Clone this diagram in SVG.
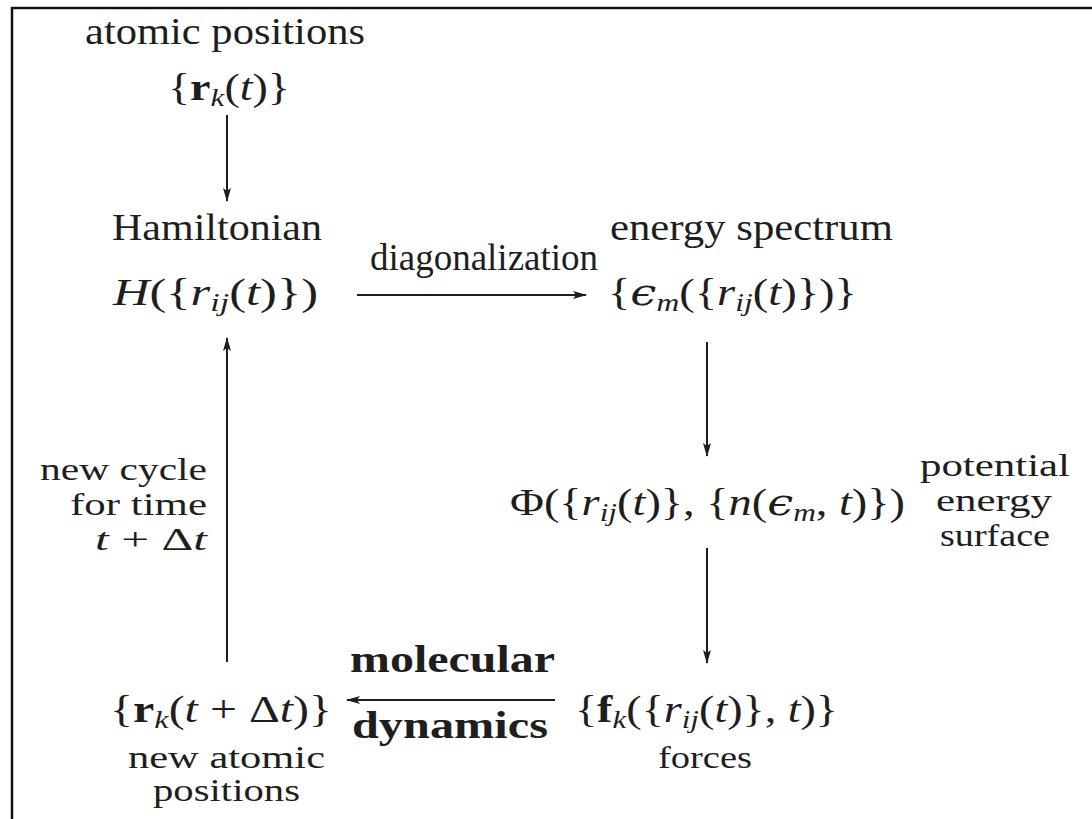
<svg xmlns="http://www.w3.org/2000/svg" width="1092" height="819" viewBox="0 0 1092 819">
<defs>
<style>
text{font-size:37px;fill:#1e1e1e}
.it{font-style:italic}
.b{font-weight:bold}
.sub{font-size:25px;font-style:italic}
.lbl{font-size:31px}
.c{text-anchor:middle}
.r{text-anchor:end}
.conn line{stroke:#1e1e1e;stroke-width:2}
.frame{stroke:#111;stroke-width:2.5;fill:none}
</style>
<marker id="ah" viewBox="0 0 14 8" refX="13" refY="4" markerWidth="14" markerHeight="8" markerUnits="userSpaceOnUse" orient="auto">
<path d="M0,0 L14,4 L0,8 L3,4 Z" fill="#1e1e1e"/>
</marker>
</defs>
<rect width="1092" height="819" fill="#fff"/>
<path class="frame" d="M12,819 L12,8 L1092,8"/>

<g font-family="'Liberation Serif', 'Times New Roman', 'DejaVu Serif', serif">
<g id="atomic-positions">
<text x="85" y="44" textLength="280" lengthAdjust="spacingAndGlyphs">atomic positions</text>
<text x="168" y="100" textLength="122" lengthAdjust="spacingAndGlyphs">{<tspan class="b">r</tspan><tspan class="sub" dy="6">k</tspan><tspan dy="-6">(</tspan><tspan class="it">t</tspan>)}</text>
</g>

<g id="hamiltonian">
<text x="112" y="240" textLength="210" lengthAdjust="spacingAndGlyphs">Hamiltonian</text>
<text x="113" y="305" textLength="205" lengthAdjust="spacingAndGlyphs"><tspan class="it">H</tspan>({<tspan class="it">r</tspan><tspan class="sub" dy="6">ij</tspan><tspan dy="-6">(</tspan><tspan class="it">t</tspan>)})</text>
</g>

<g id="energy-spectrum">
<text x="610" y="240" textLength="283" lengthAdjust="spacingAndGlyphs">energy spectrum</text>
<text x="608" y="305" textLength="249" lengthAdjust="spacingAndGlyphs">{<tspan class="it" font-family="'DejaVu Serif', serif">ϵ</tspan><tspan class="sub" dy="6">m</tspan><tspan dy="-6">({</tspan><tspan class="it">r</tspan><tspan class="sub" dy="6">ij</tspan><tspan dy="-6">(</tspan><tspan class="it">t</tspan>)})}</text>
</g>

<g id="potential">
<text x="510" y="515" textLength="395" lengthAdjust="spacingAndGlyphs">Φ({<tspan class="it">r</tspan><tspan class="sub" dy="6">ij</tspan><tspan dy="-6">(</tspan><tspan class="it">t</tspan>)}, {<tspan class="it">n</tspan>(<tspan class="it" font-family="'DejaVu Serif', serif">ϵ</tspan><tspan class="sub" dy="6">m</tspan><tspan dy="-6">, </tspan><tspan class="it">t</tspan>)})</text>
<text class="lbl" x="920" y="476" textLength="150" lengthAdjust="spacingAndGlyphs">potential</text>
<text class="lbl" x="936" y="511" textLength="116" lengthAdjust="spacingAndGlyphs">energy</text>
<text class="lbl" x="940" y="546" textLength="110" lengthAdjust="spacingAndGlyphs">surface</text>
</g>

<g id="forces">
<text x="575" y="722" textLength="263" lengthAdjust="spacingAndGlyphs">{<tspan class="b">f</tspan><tspan class="sub" dy="6">k</tspan><tspan dy="-6">({</tspan><tspan class="it">r</tspan><tspan class="sub" dy="6">ij</tspan><tspan dy="-6">(</tspan><tspan class="it">t</tspan>)}, <tspan class="it">t</tspan>)}</text>
<text class="lbl" x="658" y="768" textLength="94" lengthAdjust="spacingAndGlyphs">forces</text>
</g>

<g id="new-positions">
<text x="110" y="722" textLength="222" lengthAdjust="spacingAndGlyphs">{<tspan class="b">r</tspan><tspan class="sub" dy="6">k</tspan><tspan dy="-6">(</tspan><tspan class="it">t</tspan> + Δ<tspan class="it">t</tspan>)}</text>
<text class="lbl" x="128" y="768" textLength="197" lengthAdjust="spacingAndGlyphs">new atomic</text>
<text class="lbl" x="153" y="801" textLength="147" lengthAdjust="spacingAndGlyphs">positions</text>
</g>

<g id="new-cycle">
<text class="lbl" x="40" y="480" textLength="167" lengthAdjust="spacingAndGlyphs">new cycle</text>
<text class="lbl" x="70" y="515" textLength="137" lengthAdjust="spacingAndGlyphs">for time</text>
<text class="lbl" x="95" y="550" textLength="112" lengthAdjust="spacingAndGlyphs"><tspan class="it">t</tspan> + Δ<tspan class="it">t</tspan></text>
</g>

<g id="connectors" class="conn">
<line x1="227" y1="115" x2="227" y2="201" marker-end="url(#ah)"/>
<line x1="357" y1="295" x2="586" y2="295" marker-end="url(#ah)"/>
<text x="370" y="270" textLength="228" lengthAdjust="spacingAndGlyphs">diagonalization</text>
<line x1="707" y1="342" x2="707" y2="456" marker-end="url(#ah)"/>
<line x1="707" y1="548" x2="707" y2="663" marker-end="url(#ah)"/>
<line x1="555" y1="700" x2="347" y2="700" marker-end="url(#ah)"/>
<text class="b" x="350" y="672" textLength="205" lengthAdjust="spacingAndGlyphs">molecular</text>
<text class="b" x="352" y="738" textLength="196" lengthAdjust="spacingAndGlyphs">dynamics</text>
<line x1="227" y1="662" x2="227" y2="338" marker-end="url(#ah)"/>
</g>
</g>
</svg>
